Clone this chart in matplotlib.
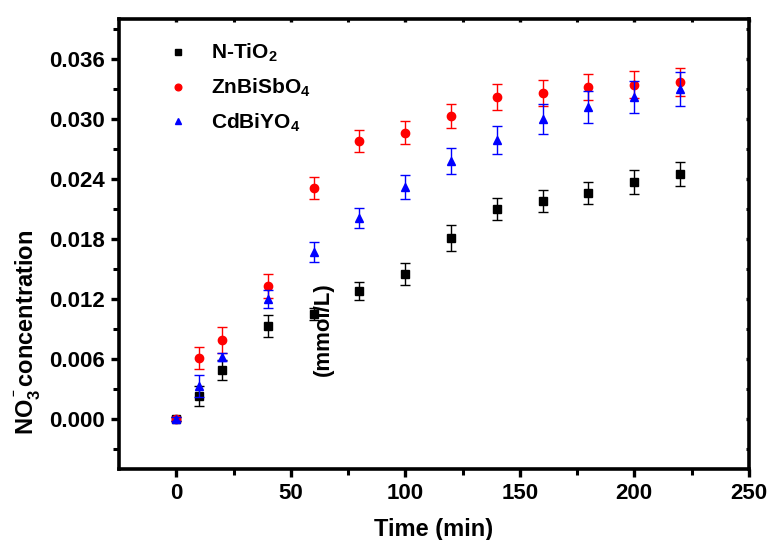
import numpy as np
import matplotlib.pyplot as plt

plt.rcParams['font.family'] = ['Liberation Sans', 'DejaVu Sans']
plt.rcParams['font.weight'] = 'bold'
plt.rcParams['axes.labelweight'] = 'bold'
plt.rcParams['mathtext.fontset'] = 'custom'
plt.rcParams['mathtext.rm'] = 'Liberation Sans:bold'
plt.rcParams['mathtext.default'] = 'rm'

time = np.array([0, 10, 20, 40, 60, 80, 100, 120, 140, 160, 180, 200, 220])

ntio2 = np.array([0.0, 0.0023, 0.0049, 0.0093, 0.0105, 0.0128, 0.0145,
                  0.0181, 0.0210, 0.0218, 0.0226, 0.0237, 0.0245])
ntio2_err = np.array([0.0002, 0.0010, 0.0010, 0.0011, 0.0006, 0.0009, 0.0011,
                      0.0013, 0.0011, 0.0011, 0.0011, 0.0012, 0.0012])

znbisbo4 = np.array([0.0, 0.0061, 0.0079, 0.0133, 0.0231, 0.0278, 0.0286,
                     0.0303, 0.0322, 0.0326, 0.0332, 0.0334, 0.0337])
znbisbo4_err = np.array([0.0002, 0.0011, 0.0013, 0.0012, 0.0011, 0.0011, 0.00115,
                         0.0012, 0.0013, 0.0013, 0.0013, 0.00135, 0.00137])

cdbiyo4 = np.array([0.0, 0.0033, 0.0062, 0.0120, 0.0167, 0.0201, 0.0232,
                    0.0258, 0.0279, 0.0300, 0.0312, 0.0322, 0.0330])
cdbiyo4_err = np.array([0.0002, 0.0011, 0.0004, 0.0009, 0.0010, 0.0010, 0.0012,
                        0.0013, 0.0014, 0.0015, 0.0016, 0.0016, 0.0017])

series = [
    (ntio2, ntio2_err, 's', 'black', 'N-TiO$_2$'),
    (znbisbo4, znbisbo4_err, 'o', 'red', 'ZnBiSbO$_4$'),
    (cdbiyo4, cdbiyo4_err, '^', 'blue', 'CdBiYO$_4$'),
]

fig = plt.figure(figsize=(7.68, 5.4), dpi=100)
ax = fig.add_axes([0.155, 0.1315, 0.82, 0.8335])

for vals, err, mk, col, name in series:
    ax.errorbar(time, vals, yerr=err, fmt='none', ecolor=col, elinewidth=1,
                capsize=3.8, capthick=1)
    ax.plot(time, vals, mk, color=col, markersize=6, label=name)

ax.set_xlim(-25, 250)
ax.set_ylim(-0.005, 0.04)
ax.set_xticks([0, 50, 100, 150, 200, 250])
ax.set_xticks(np.arange(25, 250, 50), minor=True)
ax.set_yticks(np.arange(0, 0.037, 0.006))
ax.set_yticks([-0.003, 0.003, 0.009, 0.015, 0.021, 0.027, 0.033, 0.039], minor=True)
ax.set_yticklabels(['%.3f' % v for v in np.arange(0, 0.037, 0.006)])

for sp in ax.spines.values():
    sp.set_linewidth(2.6)
ax.tick_params(axis='both', which='major', direction='out', length=6, width=2.4,
               labelsize=16, pad=4)
ax.tick_params(axis='both', which='minor', direction='out', length=4, width=2.2)
ax.tick_params(top=True, right=True, which='both')
ax.tick_params(axis='x', which='both', top=True, labeltop=False)
# small grey nubs on the top and right spines
for t in ax.xaxis.get_ticklines(minor=False)[1::2] + ax.xaxis.get_ticklines(minor=True)[1::2]:
    t.set_marker(3)
    t.set_markersize(2)
    t.set_color('0.5')
for t in ax.yaxis.get_ticklines(minor=False)[1::2] + ax.yaxis.get_ticklines(minor=True)[1::2]:
    t.set_marker(0)
    t.set_markersize(2)
    t.set_color('0.3')

ax.set_xlabel('Time (min)', fontsize=17, labelpad=10)

fig.text(0.036, 0.385, 'NO$_3^{^-}$concentration', rotation=90, fontsize=17,
         ha='center', va='center')
fig.text(0.421, 0.39, '(mmol/L)', rotation=90, fontsize=16,
         ha='center', va='center')

ax.legend(loc='upper left', bbox_to_anchor=(0.05, 0.99), frameon=False,
          fontsize=15, handlelength=0.8, handletextpad=1.2, labelspacing=0.6,
          markerscale=0.8, numpoints=1)

fig.savefig('out.png', dpi=100)
